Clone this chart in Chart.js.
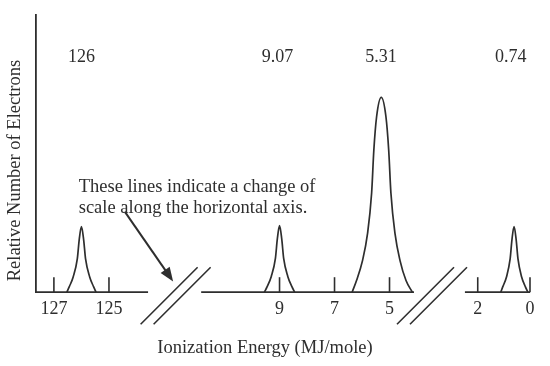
<!DOCTYPE html>
<html>
<head>
<meta charset="utf-8">
<script src="https://cdn.jsdelivr.net/npm/chart.js@4"></script>
<style>
  html, body { margin: 0; padding: 0; background: #fff; }
  #wrap { width: 550px; height: 366px; }
</style>
</head>
<body>
<div id="wrap"><canvas id="chart" width="550" height="366"></canvas></div>
<script>
/* values */
const ticks1 = [127, 125];
const ticks2 = [9, 7, 5];
const ticks3 = [2, 0];

const peakLabels = ["126", "9.07", "5.31", "0.74"];
const peakLabelX = [126, 9.07, 5.31, 0.74];

const peak1X = [126.53, 126.44, 126.3, 126.15, 126.08, 126.0, 125.92, 125.85, 125.7, 125.56, 125.47];
const peak1Y = [0, 2, 5.5, 12, 19, 23.7, 19, 12, 5.5, 2, 0];

const peak2X = [9.55, 9.45, 9.3, 9.15, 9.08, 9.0, 8.92, 8.85, 8.7, 8.55, 8.45];
const peak2Y = [0, 2, 5.7, 12.2, 19.2, 24, 19.2, 12.2, 5.7, 2, 0];

const peak3X = [6.36, 6.2, 5.98, 5.8, 5.65, 5.57, 5.47, 5.3, 5.13, 5.03, 4.95, 4.8, 4.62, 4.4, 4.17];
const peak3Y = [0, 4.2, 11.5, 21.1, 35.9, 51.3, 63.3, 70.3, 63.3, 51.3, 35.9, 21.1, 11.5, 4.2, 0];

const peak4X = [1.12, 1.04, 0.9, 0.76, 0.69, 0.61, 0.53, 0.46, 0.32, 0.18, 0.08];
const peak4Y = [0, 2, 5.5, 12, 19, 23.7, 19, 12, 5.5, 2, 0];

/* visible pieces of the broken axis (value at each end) */
const seg1 = [127.65, 123.58];
const seg2 = [11.85, 4.11];
const seg3 = [2.49, 0];

const noteLines = ["These lines indicate a change of", "scale along the horizontal axis."];

const INK = "#2e2e2e";
const SERIF = "'Liberation Serif', 'Times New Roman', serif";

function pts(xs, ys){ return xs.map((x, i) => ({ x, y: ys[i] })); }

function curve(xs, ys, axis){
  return {
    data: pts(xs, ys), xAxisID: axis,
    borderColor: INK, borderWidth: 1.7, pointRadius: 0,
    cubicInterpolationMode: "monotone", clip: false
  };
}
function baseline(seg, axis){
  return {
    data: [{ x: seg[0], y: 0 }, { x: seg[1], y: 0 }], xAxisID: axis,
    borderColor: INK, borderWidth: 1.8, pointRadius: 0, clip: false
  };
}

function xAxis(min, max, weight, vals){
  return {
    type: "linear", position: "bottom", stack: "energy", stackWeight: weight,
    min, max, reverse: true,
    grid: { display: false, drawTicks: false },
    border: { display: false },
    afterBuildTicks: s => { s.ticks = vals.map(v => ({ value: v })); },
    ticks: {
      autoSkip: false, maxRotation: 0, padding: 6, color: INK,
      font: { family: SERIF, size: 18 },
      callback: v => String(v)
    }
  };
}

/* tick marks, axis breaks, labels and the note */
const decor = {
  id: "decor",
  afterDatasetsDraw(chart){
    const ctx = chart.ctx;
    const { x1, x2, x3, y } = chart.scales;
    const base = y.getPixelForValue(0);
    const line = (a, b, c, d) => { ctx.beginPath(); ctx.moveTo(a, b); ctx.lineTo(c, d); ctx.stroke(); };
    ctx.save();
    ctx.strokeStyle = INK;
    ctx.fillStyle = INK;
    ctx.lineWidth = 1.6;

    [[x1, ticks1], [x2, ticks2], [x3, ticks3]].forEach(([s, vals]) => {
      vals.forEach(v => { const px = s.getPixelForValue(v); line(px, base, px, base - 15); });
    });

    [x1.right, x2.right].forEach(cx => {
      [-6.5, 6.5].forEach(off => line(cx + off - 28.5, base + 32, cx + off + 28.5, base - 25));
    });

    ctx.font = "18px " + SERIF;
    ctx.textBaseline = "middle";
    ctx.textAlign = "center";
    const axes = [x1, x2, x2, x3];
    peakLabels.forEach((t, i) => {
      ctx.fillText(t, axes[i].getPixelForValue(peakLabelX[i]), y.getPixelForValue(84.9));
    });

    ctx.font = "18.5px " + SERIF;
    ctx.textAlign = "left";
    ctx.fillText(noteLines[0], x1.getPixelForValue(126.1), y.getPixelForValue(38));
    ctx.fillText(noteLines[1], x1.getPixelForValue(126.1), y.getPixelForValue(30.5));

    // arrow to the first break
    const sx = x1.getPixelForValue(124.42), sy = y.getPixelForValue(29);
    const tx = x1.getPixelForValue(122.67), ty = y.getPixelForValue(3.9);
    const ang = Math.atan2(ty - sy, tx - sx);
    ctx.lineWidth = 2;
    line(sx, sy, tx - 8 * Math.cos(ang), ty - 8 * Math.sin(ang));
    ctx.beginPath();
    ctx.moveTo(tx, ty);
    ctx.lineTo(tx - 14 * Math.cos(ang) + 5.5 * Math.sin(ang), ty - 14 * Math.sin(ang) - 5.5 * Math.cos(ang));
    ctx.lineTo(tx - 14 * Math.cos(ang) - 5.5 * Math.sin(ang), ty - 14 * Math.sin(ang) + 5.5 * Math.cos(ang));
    ctx.closePath();
    ctx.fill();

    // y axis title
    ctx.translate(chart.chartArea.left - 21, y.getPixelForValue(43.9));
    ctx.rotate(-Math.PI / 2);
    ctx.textAlign = "center";
    ctx.fillText("Relative Number of Electrons", 0, 0);
    ctx.restore();
  }
};

new Chart(document.getElementById("chart"), {
  type: "line",
  data: {
    datasets: [
      baseline(seg1, "x1"), baseline(seg2, "x2"), baseline(seg3, "x3"),
      curve(peak1X, peak1Y, "x1"), curve(peak2X, peak2Y, "x2"),
      curve(peak3X, peak3Y, "x2"), curve(peak4X, peak4Y, "x3")
    ]
  },
  options: {
    responsive: false,
    animation: false,
    layout: { padding: { top: 15, right: 20, left: 0, bottom: 0 } },
    plugins: {
      legend: { display: false },
      tooltip: { enabled: false },
      title: {
        display: true, position: "bottom", text: "Ionization Energy (MJ/mole)",
        color: INK, font: { family: SERIF, size: 18.5, weight: "normal" },
        padding: { top: 11, bottom: 7 }
      }
    },
    scales: {
      x1: xAxis(122.58, 127.65, 139.6, ticks1),
      x2: xAxis(3.455, 12.78, 256.4, ticks2),
      x3: xAxis(0, 3.75, 98, ticks3),
      y: {
        position: "left", min: 0, max: 100,
        afterFit: s => { s.width = 36; },
        grid: { display: false, drawTicks: false },
        border: { display: true, color: INK, width: 1.8 },
        ticks: { display: false }
      }
    }
  },
  plugins: [decor]
});
</script>
</body>
</html>
